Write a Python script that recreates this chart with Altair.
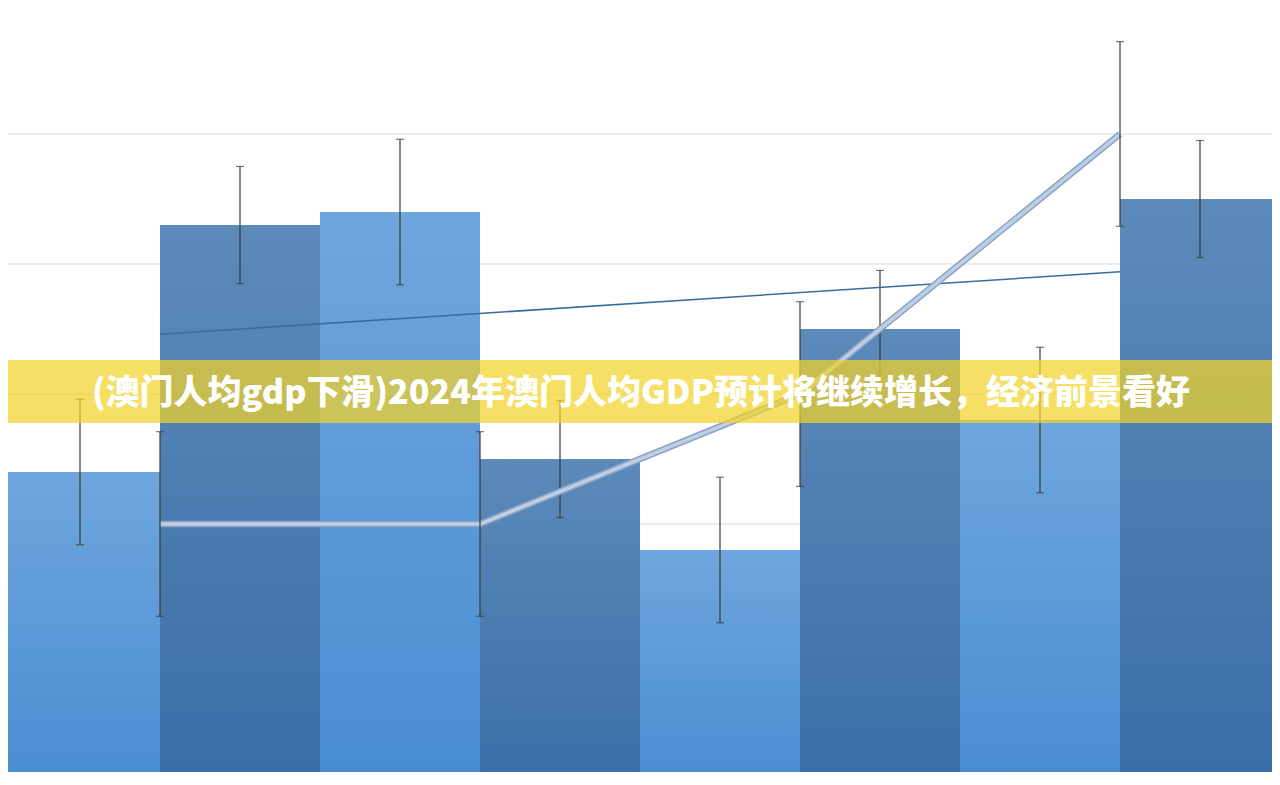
import altair as alt
import pandas as pd

# ---- data ----
categories = [1, 2, 3, 4]
series_dark = [4.3, 2.5, 3.5, 4.5]
series_light = [2.4, 4.4, 1.8, 2.8]
series_line = [2.0, 2.0, 3.0, 5.0]
err_dark = [0.45, 0.45, 0.45, 0.45]
err_light = [0.56, 0.56, 0.56, 0.56]
err_line = [0.71, 0.71, 0.71, 0.71]
grid_values = [1, 2, 3, 4, 5]
title_text = "(澳门人均gdp下滑)2024年澳门人均GDP预计将继续增长，经济前景看好"

# ---- layout ----
W, H = 1264, 764
X_DOMAIN = [8 / 320 + 0.5, 1272 / 320 + 0.5]
Y_DOMAIN = [12 / 130, 776 / 130]

df_dark = pd.DataFrame({"cat": categories, "value": series_dark, "err": err_dark})
df_light = pd.DataFrame({"cat": categories, "value": series_light, "err": err_light})
df_line = pd.DataFrame({"cat": categories, "value": series_line, "err": err_line})
df_grid = pd.DataFrame({"v": grid_values})
df_title = pd.DataFrame({"t": [title_text]})

xs = alt.Scale(domain=X_DOMAIN, nice=False, zero=False)
ys = alt.Scale(domain=Y_DOMAIN, nice=False, zero=False)


def grad(top, bottom):
    return alt.Gradient(gradient="linear", x1=0, y1=0, x2=0, y2=1,
                        stops=[alt.GradientStop(color=top, offset=0),
                               alt.GradientStop(color=bottom, offset=1)])


def bars(df, lo, hi, top, bottom):
    return alt.Chart(df).transform_calculate(
        xa=f"datum.cat + ({lo})", xb=f"datum.cat + ({hi})", zero="0"
    ).mark_bar(clip=True, color=grad(top, bottom), strokeWidth=0).encode(
        x=alt.X("xa:Q", scale=xs, axis=None),
        x2="xb:Q",
        y=alt.Y("value:Q", scale=ys, axis=None),
        y2="zero:Q",
    )


def errbars(df, off):
    base = alt.Chart(df).transform_calculate(
        xc=f"datum.cat + ({off})", lo="datum.value - datum.err", hi="datum.value + datum.err"
    )
    rule = base.mark_rule(color="#3a3a3a", strokeWidth=1.2, clip=True).encode(
        x=alt.X("xc:Q", scale=xs, axis=None),
        y=alt.Y("lo:Q", scale=ys, axis=None),
        y2="hi:Q",
    )
    t1 = base.mark_tick(color="#3a3a3a", orient="horizontal", size=8, thickness=1.2, clip=True).encode(
        x=alt.X("xc:Q", scale=xs, axis=None), y=alt.Y("lo:Q", scale=ys, axis=None))
    t2 = base.mark_tick(color="#3a3a3a", orient="horizontal", size=8, thickness=1.2, clip=True).encode(
        x=alt.X("xc:Q", scale=xs, axis=None), y=alt.Y("hi:Q", scale=ys, axis=None))
    return rule + t1 + t2


grid = alt.Chart(df_grid).mark_rule(color="#d9d9d9", strokeWidth=1).encode(
    y=alt.Y("v:Q", scale=ys, axis=None))

light_bars = bars(df_light, -0.5, 0, "#6fa6de", "#488dd1")
dark_bars = bars(df_dark, 0, 0.5, "#5c8aba", "#3a6ea7")

trend = alt.Chart(df_dark).transform_regression("cat", "value").mark_line(
    color="#3a6d9c", strokeWidth=1.6, clip=True
).encode(x=alt.X("cat:Q", scale=xs, axis=None), y=alt.Y("value:Q", scale=ys, axis=None))

line_under = alt.Chart(df_line).mark_line(color="#8ba4c6", strokeWidth=6.5, clip=True).encode(
    x=alt.X("cat:Q", scale=xs, axis=None), y=alt.Y("value:Q", scale=ys, axis=None))
line_over = alt.Chart(df_line).mark_line(color="#bfcee4", strokeWidth=3.5, clip=True).encode(
    x=alt.X("cat:Q", scale=xs, axis=None), y=alt.Y("value:Q", scale=ys, axis=None))

banner = alt.Chart(df_title).mark_rect(color="#f3d22a", opacity=0.72).encode(
    x=alt.value(0), x2=alt.value(W), y=alt.value(352), y2=alt.value(415))
title = alt.Chart(df_title).mark_text(
    font="Noto Sans CJK SC", fontWeight=900, fontSize=34, color="white",
    align="center", baseline="middle"
).encode(x=alt.value(633), y=alt.value(386), text="t:N")

chart = alt.layer(
    grid, light_bars, dark_bars,
    errbars(df_light, -0.25), errbars(df_dark, 0.25),
    trend, line_under, line_over, errbars(df_line, 0),
    banner, title,
).properties(
    width=W, height=H, autosize=alt.AutoSizeParams(type="none"), padding=0,
    background="white",
).configure_view(strokeWidth=0, stroke="transparent")

chart.save("out.html", embed_options={"renderer": "svg", "actions": False})
